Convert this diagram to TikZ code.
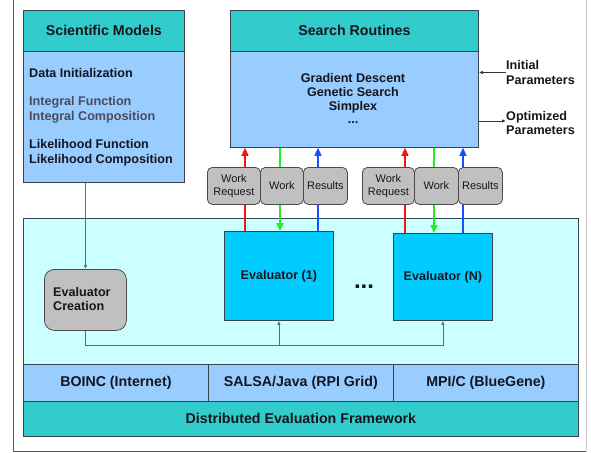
\documentclass[tikz,border=0pt]{standalone}
\usepackage{fontspec}
\setmainfont{Liberation Sans}
\usetikzlibrary{arrows.meta,calc}
\definecolor{hdr}{HTML}{33CCCC}
\definecolor{bodyblue}{HTML}{99CCFF}
\definecolor{lcyan}{HTML}{CCFFFF}
\definecolor{evalc}{HTML}{00CCFF}
\definecolor{grayb}{HTML}{C0C0C0}
\definecolor{edge}{HTML}{3A4450}
\definecolor{txt}{HTML}{15151F}
\definecolor{gtxt}{HTML}{4A4C5A}
\definecolor{cred}{HTML}{FF1010}
\definecolor{cgreen}{HTML}{22EE22}
\definecolor{cblue}{HTML}{1450FF}
\tikzset{
  box/.style={draw=edge, line width=0.8pt, anchor=north west, inner sep=0pt, text=txt},
  hdrbox/.style={box, fill=hdr, font=\fontsize{14.2}{16}\selectfont\bfseries},
  rowbox/.style={box, fill=bodyblue, font=\fontsize{14.2}{16}\selectfont\bfseries},
  btext/.style={font=\fontsize{12.6}{15}\selectfont\bfseries, text=txt, inner sep=0pt},
  wbox/.style={box, fill=grayb, rounded corners=5pt, draw=gray!60!black, align=center, font=\fontsize{11}{13}\selectfont},
  flow/.style={line width=1.3pt, -{Triangle[width=7pt,length=8pt]}},
  conn/.style={draw=edge!80, line width=0.8pt, -{Latex[width=3.5pt,length=4pt]}},
}
\begin{document}
\begin{tikzpicture}[x=1pt,y=-1pt]
\useasboundingbox (0,0) rectangle (591,452);
\fill[white] (0,0) rectangle (591,452);
\draw[gray!70!black, line width=0.8pt] (13,0) -- (13,451) -- (586,451);
\draw[gray!40, line width=0.8pt] (586,451) -- (586,0);

% Scientific models
\node[hdrbox, minimum width=161pt, minimum height=41pt] (schdr) at (23,10) {Scientific Models};
\node[box, fill=bodyblue, minimum width=161pt, minimum height=131pt] (scbody) at (23,51) {};
\node[btext, anchor=west] (d1) at (29,73) {Data Initialization};
\node[btext, anchor=west, align=left, text=gtxt] (d2) at (29,109.5) {Integral Function\\Integral Composition};
\node[btext, anchor=west, align=left] (d3) at (29,152.5) {Likelihood Function\\Likelihood Composition};

% Search routines
\node[hdrbox, minimum width=248pt, minimum height=41pt] (srhdr) at (230,10) {Search Routines};
\node[box, fill=bodyblue, minimum width=248pt, minimum height=96pt] (srbody) at (230,51) {};
\node[btext, align=center, font=\fontsize{12.6}{14}\selectfont\bfseries] (srtxt) at (353,99) {Gradient Descent\\Genetic Search\\Simplex\\\raisebox{1pt}{...}};

\node[btext, anchor=west, align=left, font=\fontsize{12.6}{15}\selectfont\bfseries] (ip) at (506,72.5) {Initial\\Parameters};
\node[btext, anchor=west, align=left, font=\fontsize{12.6}{14}\selectfont\bfseries] (op) at (506,123) {Optimized\\Parameters};
\draw[conn, draw=black!80] (ip.west) -- (srbody.east |- ip.west);
\draw[conn, draw=black!80] (srbody.east |- 0,121) -- (op.west |- 0,121);

% Lower framework
\node[box, fill=lcyan, minimum width=555pt, minimum height=146pt] (fw) at (23,218) {};
\node[rowbox, minimum width=185pt, minimum height=37pt] (boinc) at (23,364) {BOINC (Internet)};
\node[rowbox, minimum width=185pt, minimum height=37pt] (salsa) at (208,364) {SALSA/Java (RPI Grid)};
\node[rowbox, minimum width=185pt, minimum height=37pt] (mpi) at (393,364) {MPI/C (BlueGene)};
\node[hdrbox, minimum width=555pt, minimum height=35pt] (dist) at (23,401) {Distributed Evaluation Framework};

% Evaluators
\node[box, fill=evalc, minimum width=109pt, minimum height=89pt, font=\fontsize{12.6}{15}\selectfont\bfseries] (ev1) at (224,231) {Evaluator (1)};
\node[box, fill=evalc, minimum width=99pt, minimum height=87pt, font=\fontsize{12.6}{15}\selectfont\bfseries] (evN) at (393,233) {Evaluator (N)};
\node[font=\fontsize{24}{24}\selectfont\bfseries, text=txt, inner sep=0pt, anchor=base] (dots) at (364,288) {...};
\node[box, fill=grayb, draw=gray!60!black, rounded corners=10pt, minimum width=82pt, minimum height=61pt] (evc) at (44,269) {};
\node[btext, anchor=west, align=left, font=\fontsize{12.6}{14}\selectfont\bfseries] (evct) at (53,299) {Evaluator\\Creation};

% connectors creation
\coordinate (bus) at (85,345);
\draw[conn] (scbody.south -| evc.north) -- (evc.north);
\draw[conn] (evc.south) -- (evc.south |- bus) -- (evN.south |- bus) -- (evN.south);
\draw[conn] (ev1.south |- bus) -- (ev1.south);

% flows group 1
\draw[flow, cred] (ev1.north -| 245,0) -- (srbody.south -| 245,0);
\draw[flow, cgreen] (srbody.south -| 280,0) -- (ev1.north -| 280,0);
\draw[flow, cblue] (ev1.north -| 318,0) -- (srbody.south -| 318,0);
% flows group 2
\draw[flow, cred] (evN.north -| 405,0) -- (srbody.south -| 405,0);
\draw[flow, cgreen] (srbody.south -| 434,0) -- (evN.north -| 434,0);
\draw[flow, cblue] (evN.north -| 463,0) -- (srbody.south -| 463,0);

% message boxes
\node[wbox, minimum width=53pt, minimum height=37pt] (wr1) at (207,167) {Work\\Request};
\node[wbox, minimum width=43pt, minimum height=37pt] (w1) at (260,167) {Work};
\node[wbox, minimum width=44pt, minimum height=37pt] (r1) at (303,167) {Results};
\node[wbox, minimum width=52pt, minimum height=37pt] (wr2) at (362,167) {Work\\Request};
\node[wbox, minimum width=44pt, minimum height=37pt] (w2) at (414,167) {Work};
\node[wbox, minimum width=44pt, minimum height=37pt] (r2) at (458,167) {Results};
\end{tikzpicture}
\end{document}
